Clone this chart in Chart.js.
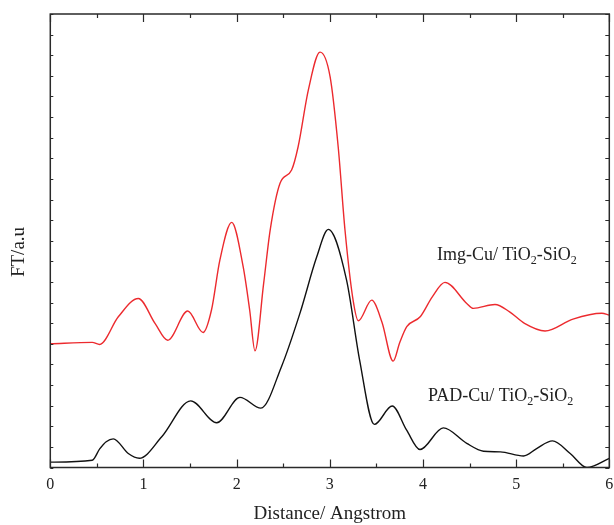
<!DOCTYPE html>
<html>
<head>
<meta charset="utf-8">
<script src="https://cdn.jsdelivr.net/npm/chart.js@4/dist/chart.umd.min.js"></script>
<style>
  html, body { margin: 0; padding: 0; background: #fff; }
  #wrap { width: 614px; height: 525px; }
</style>
</head>
<body>
<div id="wrap"><canvas id="c" width="614" height="525"></canvas></div>
<script>
// Fourier-transformed EXAFS magnitudes (arbitrary units) vs. radial distance
const padX = [0, 0.45, 0.53, 0.6, 0.676, 0.837, 0.955, 1.196, 1.507, 1.786, 2.036, 2.26, 2.48, 2.68, 2.86, 2.984,
  3.18, 3.32, 3.478, 3.67, 3.825, 3.968, 4.218, 4.47, 4.65, 4.83, 5.08, 5.22, 5.39, 5.58, 5.76, 6.0];
const padY = [0.26, 0.35, 0.9, 1.25, 1.39, 0.68, 0.45, 1.49, 3.23, 2.17, 3.40, 2.88, 4.88, 7.49, 10.22, 11.55,
  9.09, 5.21, 2.09, 2.98, 1.81, 0.87, 1.92, 1.17, 0.79, 0.76, 0.56, 0.92, 1.29, 0.68, 0.0, 0.44];

const imgX = [0, 0.45, 0.53, 0.73, 0.945, 1.124, 1.26, 1.475, 1.64, 1.73, 1.82, 1.947, 2.07, 2.14, 2.197,
  2.29, 2.36, 2.466, 2.59, 2.66, 2.77, 2.895, 3.003, 3.09, 3.163, 3.25, 3.306, 3.45, 3.56, 3.68,
  3.75, 3.826, 3.97, 4.1, 4.236, 4.47, 4.54, 4.773, 4.93, 5.09, 5.31, 5.61, 5.92, 6.0];
const imgY = [6.0, 6.07, 5.97, 7.31, 8.2, 6.99, 6.17, 7.59, 6.55, 7.64, 10.06, 11.89, 9.74, 7.64, 5.66,
  8.93, 11.52, 13.79, 14.43, 15.56, 18.32, 20.15, 18.96, 15.56, 11.52, 8.12, 7.12, 8.12, 7.05, 5.16,
  6.05, 6.83, 7.31, 8.28, 8.98, 7.96, 7.72, 7.91, 7.55, 6.99, 6.62, 7.2, 7.48, 7.39];

const xTickLabels = ['0', '1', '2', '3', '4', '5', '6'];
const seriesNames = ['Img-Cu/ TiO', 'PAD-Cu/ TiO'];

const serif = '"Liberation Serif", "Times New Roman", serif';

function pts(xs, ys) { return xs.map((x, i) => ({ x: x, y: ys[i] })); }

// Frame, inward ticks, axis title and in-plot series labels
const decor = {
  id: 'decor',
  afterDraw(chart) {
    const { ctx, chartArea: a, scales: { x, y } } = chart;
    ctx.save();
    ctx.strokeStyle = '#2a2a2a';
    ctx.lineWidth = 1.5;
    ctx.strokeRect(a.left, a.top, a.right - a.left, a.bottom - a.top);
    ctx.lineWidth = 1.2;
    ctx.beginPath();
    for (let v = 0; v <= 6.0001; v += 0.5) {
      const px = Math.round(x.getPixelForValue(v)) + 0.5;
      const len = Math.abs(v - Math.round(v)) < 1e-6 ? 8 : 4;
      ctx.moveTo(px, a.bottom); ctx.lineTo(px, a.bottom - len);
      ctx.moveTo(px, a.top); ctx.lineTo(px, a.top + len);
    }
    for (let v = 0; v <= 22; v += 1) {
      const py = Math.round(y.getPixelForValue(v)) + 0.5;
      ctx.moveTo(a.left, py); ctx.lineTo(a.left + 3, py);
      ctx.moveTo(a.right, py); ctx.lineTo(a.right - 4, py);
    }
    ctx.stroke();

    // y-axis title
    ctx.fillStyle = '#222';
    ctx.font = '19px ' + serif;
    ctx.textAlign = 'center';
    ctx.textBaseline = 'middle';
    ctx.translate(19, 252);
    ctx.rotate(-Math.PI / 2);
    ctx.fillText('FT/a.u', 0, 0);
    ctx.setTransform(1, 0, 0, 1, 0, 0);

    // series labels with subscripts
    function label(name, left, base) {
      const big = '18px ' + serif, small = '12px ' + serif;
      const parts = [[name, big, 0], ['2', small, 4], ['-SiO', big, 0], ['2', small, 4]];
      ctx.textAlign = 'left';
      ctx.textBaseline = 'alphabetic';
      let cx = left;
      parts.forEach(p => {
        ctx.font = p[1];
        ctx.fillText(p[0], cx, base + p[2]);
        cx += ctx.measureText(p[0]).width;
      });
    }
    label(seriesNames[0], 437, 260);
    label(seriesNames[1], 428, 401);
    ctx.restore();
  }
};

new Chart(document.getElementById('c'), {
  type: 'line',
  data: {
    datasets: [
      { label: 'Img-Cu/ TiO2-SiO2', data: pts(imgX, imgY), borderColor: '#ec2a2e', borderWidth: 1.4,
        pointRadius: 0, cubicInterpolationMode: 'monotone', fill: false },
      { label: 'PAD-Cu/ TiO2-SiO2', data: pts(padX, padY), borderColor: '#111', borderWidth: 1.4,
        pointRadius: 0, cubicInterpolationMode: 'monotone', fill: false }
    ]
  },
  options: {
    responsive: false,
    animation: false,
    layout: { padding: { left: 50.3, right: 4.7, top: 14, bottom: 0 } },
    plugins: { legend: { display: false }, tooltip: { enabled: false } },
    scales: {
      x: {
        type: 'linear', min: 0, max: 6,
        grid: { display: false, drawTicks: false },
        border: { display: false },
        afterFit(s) { s.height = 57.5; s.paddingLeft = 0; s.paddingRight = 0; },
        afterBuildTicks(s) { s.ticks = xTickLabels.map(t => ({ value: Number(t) })); },
        ticks: { color: '#222', padding: 8, maxRotation: 0, font: { family: serif, size: 16 },
                 callback: (v) => xTickLabels[v] },
        title: { display: true, text: 'Distance/ Angstrom', color: '#222',
                 font: { family: serif, size: 19 }, padding: { top: 0, bottom: 0 } }
      },
      y: { type: 'linear', min: 0, max: 22, display: false }
    }
  },
  plugins: [decor]
});
</script>
</body>
</html>
